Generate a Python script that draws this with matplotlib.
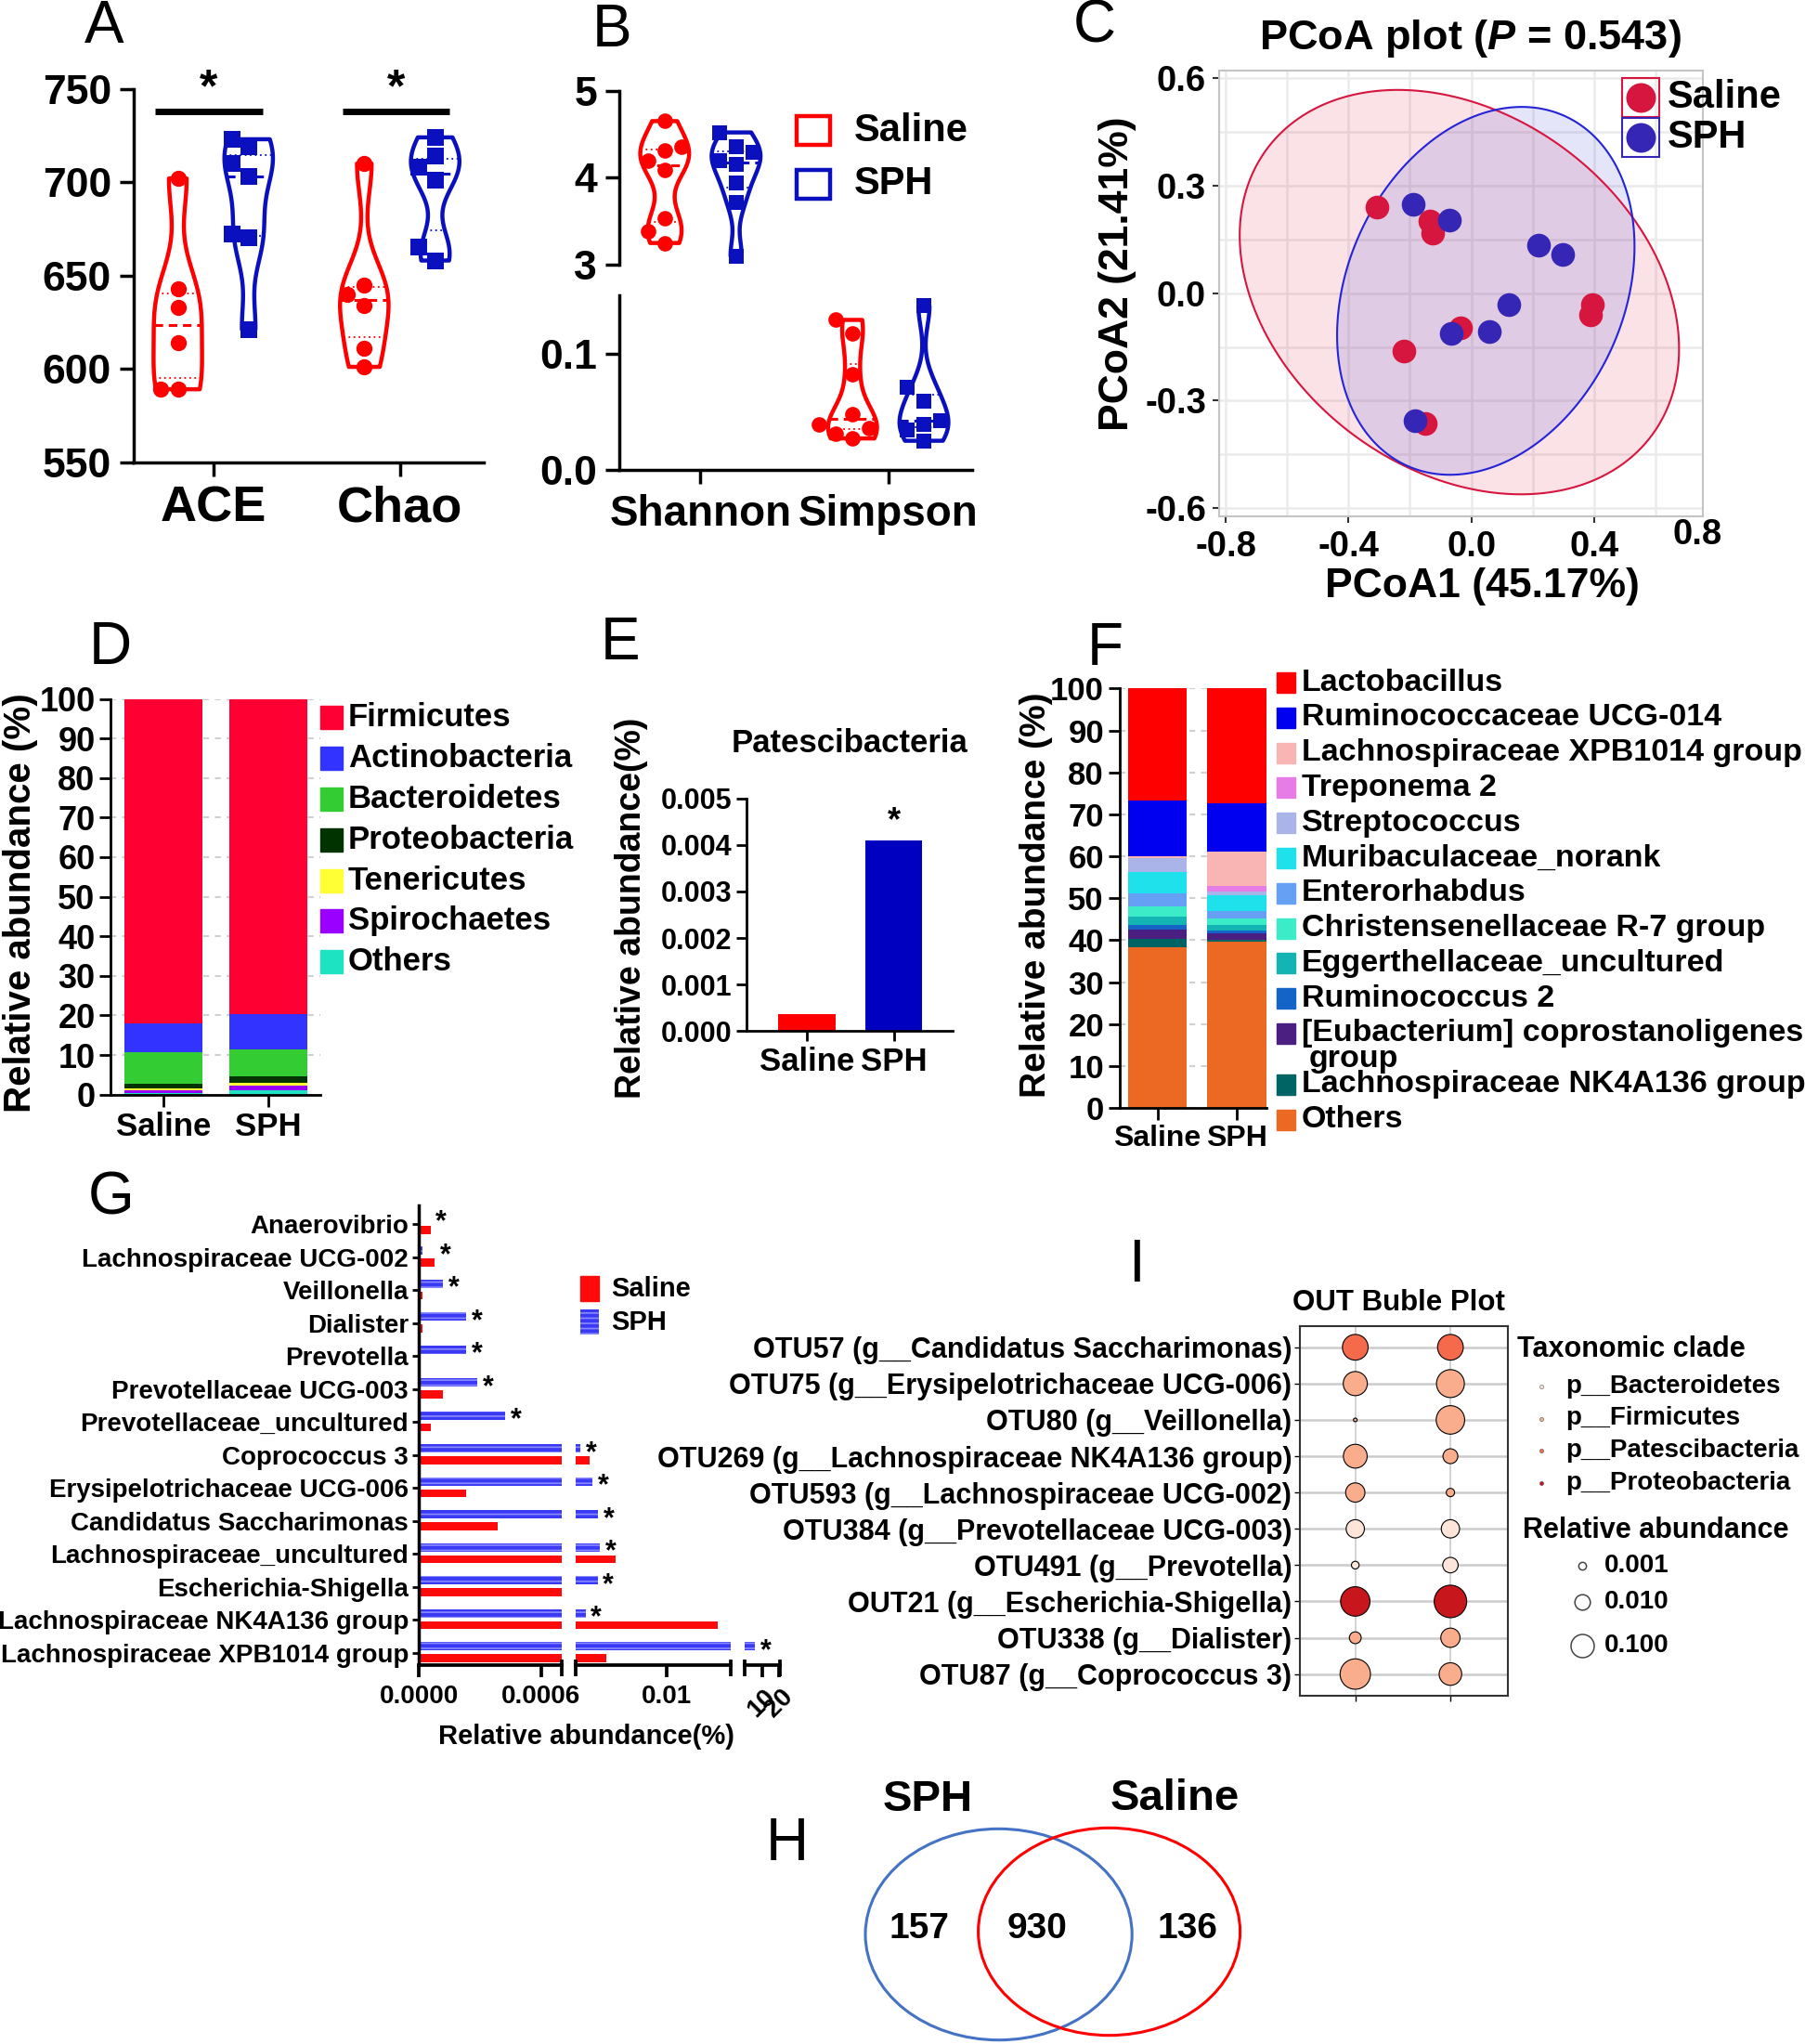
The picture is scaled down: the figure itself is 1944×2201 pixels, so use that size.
import numpy as np
import matplotlib
matplotlib.use("Agg")
import matplotlib.pyplot as plt
from matplotlib.patches import Rectangle, Ellipse, Polygon
from matplotlib.ticker import FormatStrFormatter

plt.rcParams["font.family"] = ["Liberation Sans", "DejaVu Sans"]
plt.rcParams["font.weight"] = "bold"
plt.rcParams["axes.unicode_minus"] = False
plt.rcParams["mathtext.fontset"] = "custom"
plt.rcParams["mathtext.it"] = "Liberation Sans:italic:bold"
plt.rcParams["mathtext.rm"] = "Liberation Sans:bold"
plt.rcParams["hatch.linewidth"] = 1.2

# ---------------- data ----------------
# A  richness
ace_saline = [702, 643, 633, 614, 589, 589]
ace_sph = [723, 719, 710, 703, 672, 670, 621]
chao_saline = [710, 645, 640, 634, 611, 601]
chao_sph = [724, 714, 708, 701, 665, 658]

# B  diversity
shannon_saline = [4.65, 4.36, 4.31, 4.20, 4.09, 3.53, 3.39, 3.25]
shannon_sph = [4.52, 4.36, 4.29, 4.20, 4.15, 3.94, 3.72, 3.10]
simpson_saline = [0.129, 0.117, 0.082, 0.048, 0.039, 0.036, 0.031, 0.027]
simpson_sph = [0.141, 0.071, 0.059, 0.042, 0.039, 0.034, 0.025]

# C  PCoA
pcoa_saline_x = [-0.306, -0.135, -0.127, 0.393, 0.389, -0.035, -0.219, -0.150]
pcoa_saline_y = [0.240, 0.202, 0.167, -0.031, -0.060, -0.096, -0.161, -0.363]
pcoa_sph_x = [-0.188, -0.073, 0.220, 0.297, 0.122, 0.057, -0.066, -0.184]
pcoa_sph_y = [0.248, 0.204, 0.134, 0.109, -0.031, -0.107, -0.111, -0.355]
# ellipse: centre x, centre y, half range x, half range y, covariance term
ell_saline = [-0.039, 0.003, 0.715, 0.5645, -0.113]
ell_sph = [0.047, 0.0065, 0.484, 0.5135, 0.060]

# D  phylum composition (%)
phyla = ["Firmicutes", "Actinobacteria", "Bacteroidetes", "Proteobacteria",
         "Tenericutes", "Spirochaetes", "Others"]
phylum_saline = [81.9, 7.3, 8.0, 1.2, 0.5, 0.6, 0.5]
phylum_sph = [79.7, 8.8, 6.8, 1.8, 0.6, 1.1, 1.2]
phylum_colors = ["#FF0033", "#3333FF", "#33CC33", "#003300", "#FFFF33", "#9900FF", "#1EE3C3"]

# E  Patescibacteria
groups = ["Saline", "SPH"]
pates = [0.000362, 0.004092]

# F  genus composition (%)
genera = ["Lactobacillus", "Ruminococcaceae UCG-014", "Lachnospiraceae XPB1014 group",
          "Treponema 2", "Streptococcus", "Muribaculaceae_norank", "Enterorhabdus",
          "Christensenellaceae R-7 group", "Eggerthellaceae_uncultured", "Ruminococcus 2",
          "[Eubacterium] coprostanoligenes\ngroup", "Lachnospiraceae NK4A136 group", "Others"]
genus_saline = [26.7, 13.3, 0.4, 0.1, 3.2, 5.2, 3.1, 2.4, 2.0, 1.0, 2.2, 2.1, 38.3]
genus_sph = [27.3, 11.5, 8.3, 1.2, 0.9, 3.8, 1.9, 1.5, 1.2, 0.8, 1.6, 0.4, 39.6]
genus_colors = ["#FF0000", "#0000F0", "#F9B4B4", "#E67CE6", "#AAB4E8", "#1EE1EB", "#66A0F5",
                "#3CEBC8", "#14B4B4", "#1464C8", "#4B1E82", "#006464", "#EB6923"]

# G  differential genera
g_taxa = ["Anaerovibrio", "Lachnospiraceae UCG-002", "Veillonella", "Dialister", "Prevotella",
          "Prevotellaceae UCG-003", "Prevotellaceae_uncultured", "Coprococcus 3",
          "Erysipelotrichaceae UCG-006", "Candidatus Saccharimonas", "Lachnospiraceae_uncultured",
          "Escherichia-Shigella", "Lachnospiraceae NK4A136 group", "Lachnospiraceae XPB1014 group"]
g_saline = [0.0000575, 0.0000775, 0.00002, 0.00002, 0.000002, 0.00012, 0.0000575,
            0.0021, 0.000233, 0.000388, 0.00474, 0.00075, 0.0152, 0.0038]
g_sph = [0.000003, 0.00002, 0.00012, 0.000233, 0.000233, 0.000288, 0.000425,
         0.00121, 0.00241, 0.00302, 0.00318, 0.00293, 0.00173, 5.9]

# I  OTU bubble plot
otu_labels = ["OTU57 (g__Candidatus Saccharimonas)", "OTU75 (g__Erysipelotrichaceae UCG-006)",
              "OTU80 (g__Veillonella)", "OTU269 (g__Lachnospiraceae NK4A136 group)",
              "OTU593 (g__Lachnospiraceae UCG-002)", "OTU384 (g__Prevotellaceae UCG-003)",
              "OTU491 (g__Prevotella)", "OUT21 (g__Escherichia-Shigella)",
              "OTU338 (g__Dialister)", "OTU87 (g__Coprococcus 3)"]
otu_clade = ["p__Patescibacteria", "p__Firmicutes", "p__Firmicutes", "p__Firmicutes",
             "p__Firmicutes", "p__Bacteroidetes", "p__Bacteroidetes", "p__Proteobacteria",
             "p__Firmicutes", "p__Firmicutes"]
otu_saline = [0.21, 0.13, 0.0003, 0.12, 0.031, 0.023, 0.001, 0.63, 0.0034, 0.84]
otu_sph = [0.21, 0.40, 0.48, 0.0084, 0.0012, 0.023, 0.01, 1.58, 0.031, 0.082]
clades = ["p__Bacteroidetes", "p__Firmicutes", "p__Patescibacteria", "p__Proteobacteria"]
clade_colors = ["#FEE5D9", "#F9AD8D", "#F46A4B", "#C8161D"]
size_breaks = [0.001, 0.010, 0.100]

# H  Venn
venn_counts = [157, 930, 136]
venn_sets = ["SPH", "Saline"]

# ---------------- helpers ----------------
W, H = 1944, 2201
RED = "#FF0000"
BLUE = "#0A10BE"

fig = plt.figure(figsize=(W / 100, H / 100), dpi=100)
ov = fig.add_axes([0, 0, 1, 1], zorder=20)
ov.set_xlim(0, W)
ov.set_ylim(H, 0)
ov.axis("off")


def px_axes(x0, y0, x1, y1):
    return fig.add_axes([x0 / W, 1 - y1 / H, (x1 - x0) / W, (y1 - y0) / H])


def prism(ax, lw=2.5, length=11):
    for s in ("top", "right"):
        ax.spines[s].set_visible(False)
    for s in ("left", "bottom"):
        ax.spines[s].set_linewidth(lw)
    ax.tick_params(width=lw, length=length)


def swarm(vals, tol, step):
    vals = np.asarray(vals, float)
    offs = np.zeros(len(vals))
    done = []
    for i in np.argsort(vals):
        for k in (0, -1, 1, -2, 2):
            if all(abs(vals[i] - vals[j]) >= tol or offs[j] != k * step for j in done):
                offs[i] = k * step
                break
        done.append(i)
    return offs


def violin(ax, data, pos, color, marker, width, step, tol, ms):
    parts = ax.violinplot([data], positions=[pos], widths=width, showextrema=False,
                          bw_method=0.45)
    body = parts["bodies"][0]
    body.set_facecolor("none")
    body.set_edgecolor(color)
    body.set_linewidth(3.2)
    body.set_alpha(1)
    v = body.get_paths()[0].vertices
    right = v[v[:, 0] >= pos]
    order = np.argsort(right[:, 1])
    for q in (25, 50, 75):
        y = np.percentile(data, q)
        hw = np.interp(y, right[order, 1], right[order, 0]) - pos
        if q == 50:
            ax.plot([pos - hw, pos + hw], [y, y], color=color, lw=2.2, ls=(0, (3, 2)))
        else:
            ax.plot([pos - hw, pos + hw], [y, y], color=color, lw=1.3, ls=(0, (1, 2)))
    offs = swarm(data, tol, step)
    ax.scatter(pos + offs, data, marker=marker, s=ms ** 2, color=color, zorder=3, lw=0)


OFF = 0.19

# ---------------- A ----------------
axA = px_axes(143.5, 95.7, 520.5, 497.5)
prism(axA)
for vals, pos, col, mk in [(ace_saline, 1 - OFF, RED, "o"), (ace_sph, 1 + OFF, BLUE, "s"),
                           (chao_saline, 2 - OFF, RED, "o"), (chao_sph, 2 + OFF, BLUE, "s")]:
    violin(axA, vals, pos, col, mk, 0.26, 0.09, 8, 12.5)
axA.set_xlim(0.571, 2.448)
axA.set_ylim(550, 750)
axA.set_yticks(range(550, 751, 50))
axA.set_xticks([1, 2], ["ACE", "Chao"])
axA.tick_params(axis="y", labelsize=32, pad=6)
axA.tick_params(axis="x", labelsize=39, pad=7)
for x0, x1 in [(0.686, 1.267), (1.695, 2.267)]:
    axA.plot([x0, x1], [738, 738], color="k", lw=5, clip_on=False, solid_capstyle="butt")
    axA.text((x0 + x1) / 2, 738, "*", ha="center", va="bottom", fontsize=36, clip_on=False)

# ---------------- B ----------------
axB1 = px_axes(666.7, 97.6, 1046.7, 285.1)
axB2 = px_axes(666.7, 318.2, 1046.7, 505.9)
for ax in (axB1, axB2):
    prism(ax)
    ax.set_xlim(0.567, 2.445)
axB1.spines["bottom"].set_visible(False)
violin(axB1, shannon_saline, 1 - OFF, RED, "o", 0.26, 0.09, 0.18, 12)
violin(axB1, shannon_sph, 1 + OFF, BLUE, "s", 0.26, 0.09, 0.18, 12)
violin(axB2, simpson_saline, 2 - OFF, RED, "o", 0.26, 0.09, 0.013, 12)
violin(axB2, simpson_sph, 2 + OFF, BLUE, "s", 0.26, 0.09, 0.013, 12)
axB1.set_ylim(3, 5)
axB1.set_yticks([3, 4, 5])
axB1.set_xticks([])
axB1.tick_params(axis="y", labelsize=32, pad=6)
axB2.set_ylim(0, 0.15)
axB2.set_yticks([0, 0.1], ["0.0", "0.1"])
axB2.set_xticks([1, 2], ["Shannon", "Simpson"])
axB2.tick_params(axis="y", labelsize=32, pad=6)
axB2.tick_params(axis="x", labelsize=33, pad=8)
for g, col, yc in [(groups[0], RED, 140.5), (groups[1], BLUE, 198)]:
    ov.add_patch(Rectangle((858, yc - 15.5), 36, 31, fill=False, ec=col, lw=3.2))
    ov.text(920, yc, g, ha="left", va="center", fontsize=30)

# ---------------- C ----------------
CR = "#D7163F"
CB = "#3526B5"
axC = px_axes(1313, 75.8, 1833.5, 555.6)
axC.set_xlim(-0.821, 0.752)
axC.set_ylim(-0.622, 0.622)
for gx in np.arange(-0.8, 0.61, 0.2):
    axC.axvline(gx, color="#EBEBEB", lw=1.8, zorder=0)
for gy in np.arange(-0.6, 0.61, 0.15):
    axC.axhline(gy, color="#EBEBEB", lw=1.8, zorder=0)
for s in axC.spines.values():
    s.set_color("#C4C4C4")
    s.set_linewidth(1.5)


def ellipse_pts(p):
    cx, cy, wx, hy, cxy = p
    t = np.linspace(0, 2 * np.pi, 300)
    a2 = cxy / wx
    b2 = np.sqrt(hy ** 2 - a2 ** 2)
    return np.column_stack([cx + wx * np.cos(t), cy + a2 * np.cos(t) + b2 * np.sin(t)])


axC.add_patch(Polygon(ellipse_pts(ell_saline), closed=True, fc=CR, alpha=0.12, lw=0, zorder=1))
axC.add_patch(Polygon(ellipse_pts(ell_sph), closed=True, fc="#2B2BD0", alpha=0.12, lw=0, zorder=1))
axC.add_patch(Polygon(ellipse_pts(ell_saline), closed=True, fill=False, ec=CR, lw=1.5, zorder=2))
axC.add_patch(Polygon(ellipse_pts(ell_sph), closed=True, fill=False, ec="#2424D6", lw=1.5, zorder=2))
axC.scatter(pcoa_saline_x, pcoa_saline_y, s=340, color=CR, lw=0, zorder=3)
axC.scatter(pcoa_sph_x, pcoa_sph_y, s=340, color=CB, lw=0, zorder=4)
axC.set_xticks([-0.8, -0.4, 0.0, 0.4], ["-0.8", "-0.4", "0.0", "0.4"])
axC.set_yticks([-0.6, -0.3, 0.0, 0.3, 0.6], ["-0.6", "-0.3", "0.0", "0.3", "0.6"])
axC.tick_params(labelsize=27.5, length=5, width=1.5, color="#333333", pad=5)
axC.tick_params(axis="x", pad=6)
ov.text(1828, 576, "0.8", ha="center", va="center", fontsize=27.5)
ov.text(1583, 42, r"PCoA plot ($P$ = 0.543)", ha="center", va="center", fontsize=32.5)
ov.text(1203, 295, "PCoA2 (21.41%)", ha="center", va="center", rotation=90, fontsize=32)
ov.text(1596, 632, "PCoA1 (45.17%)", ha="center", va="center", fontsize=32)
for g, col, yc in [(groups[0], CR, 105), (groups[1], CB, 148)]:
    ov.add_patch(Rectangle((1747, yc - 21), 40, 42, fill=False, ec=col, lw=1.5))
    ov.plot([1767], [yc], "o", ms=23, color=col, mew=0)
    ov.text(1796, yc, g, ha="left", va="center", fontsize=30)

# ---------------- D ----------------
axD = px_axes(119.2, 752.5, 344.9, 1178.7)
prism(axD, lw=2, length=9)
bottom = np.zeros(2)
for name, col, vs, vp in reversed(list(zip(phyla, phylum_colors, phylum_saline, phylum_sph))):
    axD.bar([0, 1], [vs, vp], 0.747, bottom=bottom, color=col, zorder=2)
    bottom += [vs, vp]
axD.set_xlim(-0.503, 1.4925)
axD.set_ylim(0, 100)
axD.set_yticks(range(0, 101, 10))
axD.set_xticks([0, 1], groups)
axD.yaxis.grid(True, color="#D0D0D0", ls=(0, (3, 3)), lw=1.5)
axD.set_axisbelow(True)
axD.tick_params(axis="y", labelsize=26, pad=3)
axD.tick_params(axis="x", labelsize=25, pad=4)
ov.text(22, 972, "Relative abundance (%)", ha="center", va="center", rotation=90, fontsize=29)
for i, (name, col) in enumerate(zip(phyla, phylum_colors)):
    yc = 772.8 + i * 43.8
    ov.add_patch(Rectangle((345, yc - 12.5), 24, 25, color=col))
    ov.text(375, yc, name, ha="left", va="center", fontsize=25)

# ---------------- E ----------------
axE = px_axes(804, 859.8, 1026, 1110.2)
prism(axE, lw=2, length=8)
axE.bar([0, 1], pates, 0.66, color=[RED, "#0000C0"])
axE.set_xlim(-0.699, 1.68)
axE.set_ylim(0, 0.005)
axE.set_yticks(np.arange(0, 0.0051, 0.001))
axE.yaxis.set_major_formatter(FormatStrFormatter("%.3f"))
axE.set_xticks([0, 1], groups)
axE.tick_params(axis="y", labelsize=22, pad=3)
axE.tick_params(axis="x", labelsize=25, pad=4)
axE.annotate("*", xy=(1, pates[1]), xytext=(0, 2), textcoords="offset points",
             ha="center", va="bottom", fontsize=26)
ov.text(915, 800, "Patescibacteria", ha="center", va="center", fontsize=25)
ov.text(680, 978, "Relative abundance(%)", ha="center", va="center", rotation=90, fontsize=27)

# ---------------- F ----------------
axF = px_axes(1205.6, 741.4, 1363.7, 1193.2)
prism(axF, lw=2, length=9)
bottom = np.zeros(2)
for name, col, vs, vp in reversed(list(zip(genera, genus_colors, genus_saline, genus_sph))):
    axF.bar([0, 1], [vs, vp], 0.74, bottom=bottom, color=col, zorder=2)
    bottom += [vs, vp]
axF.set_xlim(-0.48, 1.371)
axF.set_ylim(0, 100)
axF.set_yticks(range(0, 101, 10))
axF.set_xticks([0, 1], groups)
axF.yaxis.grid(True, color="#D0D0D0", ls=(0, (3, 3)), lw=1.5)
axF.set_axisbelow(True)
axF.tick_params(axis="y", labelsize=25, pad=3)
axF.tick_params(axis="x", labelsize=23, pad=4)
ov.text(1116, 964, "Relative abundance (%)", ha="center", va="center", rotation=90, fontsize=28)
for i, (name, col) in enumerate(zip(genera, genus_colors)):
    yc = 735 + i * 37.8 + (17 if i > 10 else 0)
    ov.add_patch(Rectangle((1375, yc - 11), 20, 22, color=col))
    lines = name.split("\n")
    ov.text(1402, yc, lines[0], ha="left", va="center", fontsize=24.5)
    if len(lines) > 1:
        ov.text(1410, yc + 28, lines[1], ha="left", va="center", fontsize=24.5)

# ---------------- G ----------------
ypos = np.arange(len(g_taxa))
segs = [(451, 604.5, (0, 0.0007)), (619.9, 787.2, (0.0007, 0.0165)), (802, 840.4, (0, 20.6))]
axG = []
for x0, x1, lim in segs:
    ax = px_axes(x0, 1297.7, x1, 1793.1)
    ax.barh(ypos - 0.2, g_sph, 0.25, color="#3A3AF6", ec="#8A8AFF", hatch="---", lw=0)
    ax.barh(ypos + 0.16, g_saline, 0.25, color="#FF0A0A", lw=0)
    ax.set_xlim(*lim)
    ax.set_ylim(13.375, -0.583)
    for s in ("top", "right", "left"):
        ax.spines[s].set_visible(False)
    ax.spines["bottom"].set_linewidth(2.7)
    ax.tick_params(axis="x", width=2.7, length=9, labelsize=20, pad=6)
    ax.set_yticks([])
    for xa in ((1,) if not axG else (0, 1)):
        ax.plot([xa, xa], [-0.024, 0.012], transform=ax.transAxes, color="k", lw=2.7,
                clip_on=False, solid_capstyle="butt")
    axG.append(ax)
axG[0].spines["left"].set_visible(True)
axG[0].spines["left"].set_linewidth(2.5)
axG[0].set_yticks(ypos, g_taxa)
axG[0].tick_params(axis="y", labelsize=20, length=5, width=2, pad=3)
axG[0].set_xticks([0, 0.0006], ["0.0000", "0.0006"])
axG[1].set_xticks([0.01], ["0.01"])
axG[2].set_xticks([10, 20], ["10", "20"], rotation=45)
for i, (sal, sph) in enumerate(zip(g_saline, g_sph)):
    anchor = sph if sph > 0.00003 else max(sal, sph)
    k = 0 if anchor < 0.0007 else (1 if anchor < 0.0165 else 2)
    axG[k].annotate("*", xy=(anchor, i - 0.05), xytext=(4, 0), textcoords="offset points",
                    ha="left", va="center", fontsize=22, annotation_clip=False)
ov.add_patch(Rectangle((625, 1374), 20, 27, color="#FF0A0A"))
ov.add_patch(Rectangle((625, 1410), 20, 27, fc="#3A3AF6", ec="#8A8AFF", hatch="---", lw=0))
ov.text(658, 1387.5, groups[0], ha="left", va="center", fontsize=21)
ov.text(658, 1423.5, groups[1], ha="left", va="center", fontsize=21)
ov.text(631, 1870, "Relative abundance(%)", ha="center", va="center", fontsize=21)

# ---------------- I ----------------


def bubble_px(v):
    return 25 + 8.35 * np.log10(np.asarray(v, float) / 0.1)


axI = px_axes(1399.6, 1427.7, 1623.6, 1825.7)
rows = np.arange(len(otu_labels))
for r in rows:
    axI.axhline(r, color="#CCCCCC", lw=1.8, zorder=0)
for c in (0, 1):
    axI.axvline(c, color="#CCCCCC", lw=1.2, zorder=0)
cols = [clade_colors[clades.index(c)] for c in otu_clade]
for c, vals in enumerate([otu_saline, otu_sph]):
    axI.scatter(np.full(len(vals), c), rows, s=(bubble_px(vals) * 0.72) ** 2, c=cols,
                edgecolors="k", linewidths=0.8, zorder=3)
axI.set_xlim(-0.586, 1.6)
axI.set_ylim(9.59, -0.59)
axI.set_yticks(rows, otu_labels)
axI.set_xticks([0, 1], ["", ""])
axI.tick_params(axis="y", labelsize=22, length=4, width=1, pad=2)
axI.tick_params(axis="x", length=4, width=1)
for s in axI.spines.values():
    s.set_color("#333333")
    s.set_linewidth(1.5)
ov.text(1506, 1403, "OUT Buble Plot", ha="center", va="center", fontsize=22.5)
ov.text(1634, 1453, "Taxonomic clade", ha="left", va="center", fontsize=22)
for i, (cl, col) in enumerate(zip(clades, clade_colors)):
    yc = 1493 + i * 34.5
    ov.scatter([1660], [yc], s=9, color=col, edgecolors="#555555", linewidths=0.4)
    ov.text(1686, yc, cl, ha="left", va="center", fontsize=20)
ov.text(1640, 1648, "Relative abundance", ha="left", va="center", fontsize=22)
for v, yc in zip(size_breaks, [1686, 1725, 1771.7]):
    ov.scatter([1703.6], [yc], s=(bubble_px(v) * 0.72) ** 2, fc="white", ec="#444444",
               linewidths=1.1)
    ov.text(1727.6, yc, f"{v:.3f}", ha="left", va="center", fontsize=20)

# ---------------- H ----------------
ov.add_patch(Ellipse((1075.6, 2083), 287.2, 227.4, fill=False, ec="#4472C4", lw=2.2))
ov.add_patch(Ellipse((1194.6, 2080), 282, 223.4, fill=False, ec="#FF0000", lw=2.2))
for n, xc in zip(venn_counts, [990, 1117, 1279]):
    ov.text(xc, 2077, str(n), ha="center", va="center", fontsize=28)
ov.text(999, 1938, venn_sets[0], ha="center", va="center", fontsize=34)
ov.text(1265, 1937, venn_sets[1], ha="center", va="center", fontsize=34)

# ---------------- panel letters ----------------
for lab, x, y in [("A", 91, 46), ("B", 638, 50), ("C", 1156, 46), ("D", 96, 715),
                  ("E", 647, 710), ("F", 1171, 716), ("G", 95, 1308), ("I", 1224, 1380),
                  ("H", 825, 2003)]:
    ov.text(x, y, lab, ha="center" if lab == "I" else "left", va="baseline",
            fontsize=46, fontweight="normal")

fig.savefig("out.png", dpi=100)
